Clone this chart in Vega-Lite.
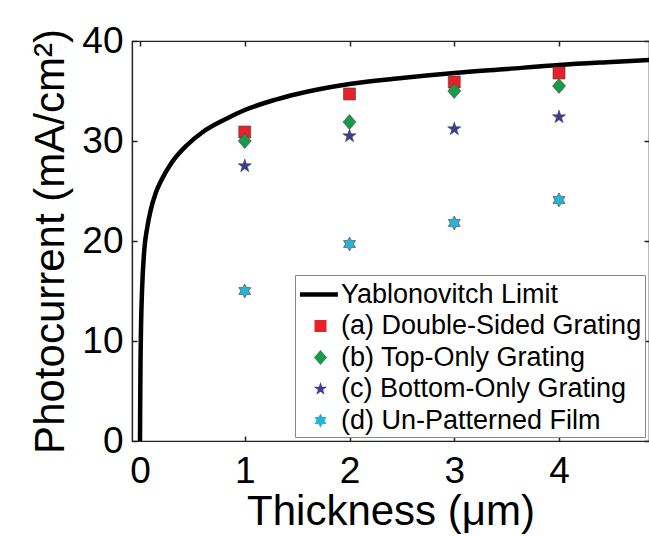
{
  "$schema": "https://vega.github.io/schema/vega-lite/v6.json",
  "width": 517,
  "height": 400,
  "autosize": {"type": "none"},
  "padding": {"left": 132, "top": 41, "right": 0, "bottom": 95},
  "background": "white",
  "config": {
    "font": "Liberation Sans",
    "view": {"stroke": "#222", "strokeWidth": 1.2},
    "axis": {
      "grid": false,
      "domainColor": "#222",
      "domainWidth": 1.2,
      "tickColor": "#222",
      "tickWidth": 1.5,
      "tickSize": -5,
      "labelFont": "Liberation Sans",
      "labelFontSize": 37,
      "labelColor": "black",
      "titleFont": "Liberation Sans",
      "titleFontSize": 42,
      "titleFontWeight": "normal",
      "titleColor": "black"
    },
    "legend": {
      "orient": "bottom-right",
      "offset": 4,
      "labelFont": "Liberation Sans",
      "labelFontSize": 27,
      "labelColor": "black",
      "labelLimit": 500,
      "labelOffset": 4,
      "strokeColor": "#888",
      "fillColor": "white",
      "padding": 3,
      "rowPadding": 1.5,
      "symbolOffset": 6,
      "symbolSize": 1000,
      "symbolStrokeWidth": 0.6,
      "symbolStrokeColor": "#444",
      "symbolOpacity": 1
    }
  },
  "datasets": {
    "curve": [
      {"t": 0.0, "j": 0.0},
      {"t": 0.002, "j": 4.0},
      {"t": 0.005, "j": 8.0},
      {"t": 0.01, "j": 11.5},
      {"t": 0.02, "j": 15.2},
      {"t": 0.04, "j": 19.0},
      {"t": 0.07, "j": 21.4},
      {"t": 0.1, "j": 23.0},
      {"t": 0.15, "j": 24.8},
      {"t": 0.2, "j": 26.0},
      {"t": 0.3, "j": 27.8},
      {"t": 0.45, "j": 29.6},
      {"t": 0.6, "j": 30.9},
      {"t": 0.8, "j": 32.1},
      {"t": 1.0, "j": 33.1},
      {"t": 1.25, "j": 34.0},
      {"t": 1.5, "j": 34.7},
      {"t": 2.0, "j": 35.7},
      {"t": 2.5, "j": 36.3},
      {"t": 3.0, "j": 36.8},
      {"t": 3.5, "j": 37.2},
      {"t": 4.0, "j": 37.6},
      {"t": 4.5, "j": 37.9},
      {"t": 4.86, "j": 38.1}
    ],
    "points": [
      {"t": 1, "j": 30.9, "series": "(a) Double-Sided Grating"},
      {"t": 2, "j": 34.7, "series": "(a) Double-Sided Grating"},
      {"t": 3, "j": 35.9, "series": "(a) Double-Sided Grating"},
      {"t": 4, "j": 36.8, "series": "(a) Double-Sided Grating"},
      {"t": 1, "j": 30.0, "series": "(b) Top-Only Grating"},
      {"t": 2, "j": 31.9, "series": "(b) Top-Only Grating"},
      {"t": 3, "j": 35.0, "series": "(b) Top-Only Grating"},
      {"t": 4, "j": 35.5, "series": "(b) Top-Only Grating"},
      {"t": 1, "j": 27.5, "series": "(c) Bottom-Only Grating"},
      {"t": 2, "j": 30.5, "series": "(c) Bottom-Only Grating"},
      {"t": 3, "j": 31.2, "series": "(c) Bottom-Only Grating"},
      {"t": 4, "j": 32.4, "series": "(c) Bottom-Only Grating"},
      {"t": 1, "j": 15.0, "series": "(d) Un-Patterned Film"},
      {"t": 2, "j": 19.7, "series": "(d) Un-Patterned Film"},
      {"t": 3, "j": 21.8, "series": "(d) Un-Patterned Film"},
      {"t": 4, "j": 24.1, "series": "(d) Un-Patterned Film"}
    ]
  },
  "resolve": {"axis": {"x": "independent", "y": "independent"}},
  "layer": [
    {
      "data": {"name": "curve"},
      "mark": {"type": "line", "strokeWidth": 4.5, "interpolate": "monotone", "clip": true, "strokeCap": "butt", "color": "black"},
      "encoding": {
        "x": {
          "field": "t", "type": "quantitative",
          "scale": {"domain": [-0.0764, 4.859], "nice": false, "zero": false},
          "axis": {"orient": "bottom", "values": [0, 1, 2, 3, 4], "format": "d", "title": "Thickness (μm)", "labelPadding": 17, "titlePadding": 2}
        },
        "y": {
          "field": "j", "type": "quantitative",
          "scale": {"domain": [0, 40], "nice": false},
          "axis": {"orient": "left", "values": [0, 10, 20, 30, 40], "format": "d", "title": "Photocurrent (mA/cm²)", "labelPadding": 14, "titlePadding": 9}
        }
      }
    },
    {
      "data": {"name": "points"},
      "mark": {"type": "point", "filled": true, "opacity": 1, "size": 1000, "stroke": "#444", "strokeWidth": 0.6},
      "encoding": {
        "x": {
          "field": "t", "type": "quantitative",
          "axis": {"orient": "top", "values": [0, 1, 2, 3, 4], "labels": false, "title": null, "domain": false}
        },
        "y": {
          "field": "j", "type": "quantitative",
          "axis": {"orient": "right", "values": [0, 10, 20, 30, 40], "labels": false, "title": null, "domain": false}
        },
        "color": {
          "field": "series", "type": "nominal", "title": null,
          "scale": {
            "domain": ["Yablonovitch Limit", "(a) Double-Sided Grating", "(b) Top-Only Grating", "(c) Bottom-Only Grating", "(d) Un-Patterned Film"],
            "range": ["#000000", "#e8202a", "#1a9a4a", "#3a3c98", "#29b2d6"]
          }
        },
        "shape": {
          "field": "series", "type": "nominal", "title": null,
          "scale": {
            "domain": ["Yablonovitch Limit", "(a) Double-Sided Grating", "(b) Top-Only Grating", "(c) Bottom-Only Grating", "(d) Un-Patterned Film"],
            "range": [
              "M-1.3,-0.14H1.1V0.14H-1.3Z",
              "M-0.38,-0.38H0.38V0.38H-0.38Z",
              "M0,-0.47L0.41,0L0,0.47L-0.41,0Z",
              "M0,-0.44L0.1,-0.138L0.418,-0.136L0.162,0.053L0.259,0.356L0,0.17L-0.259,0.356L-0.162,0.053L-0.418,-0.136L-0.1,-0.138Z",
              "M0,-0.44L0.127,-0.22L0.381,-0.22L0.254,0L0.381,0.22L0.127,0.22L0,0.44L-0.127,0.22L-0.381,0.22L-0.254,0L-0.381,-0.22L-0.127,-0.22Z"
            ]
          }
        }
      }
    }
  ]
}
